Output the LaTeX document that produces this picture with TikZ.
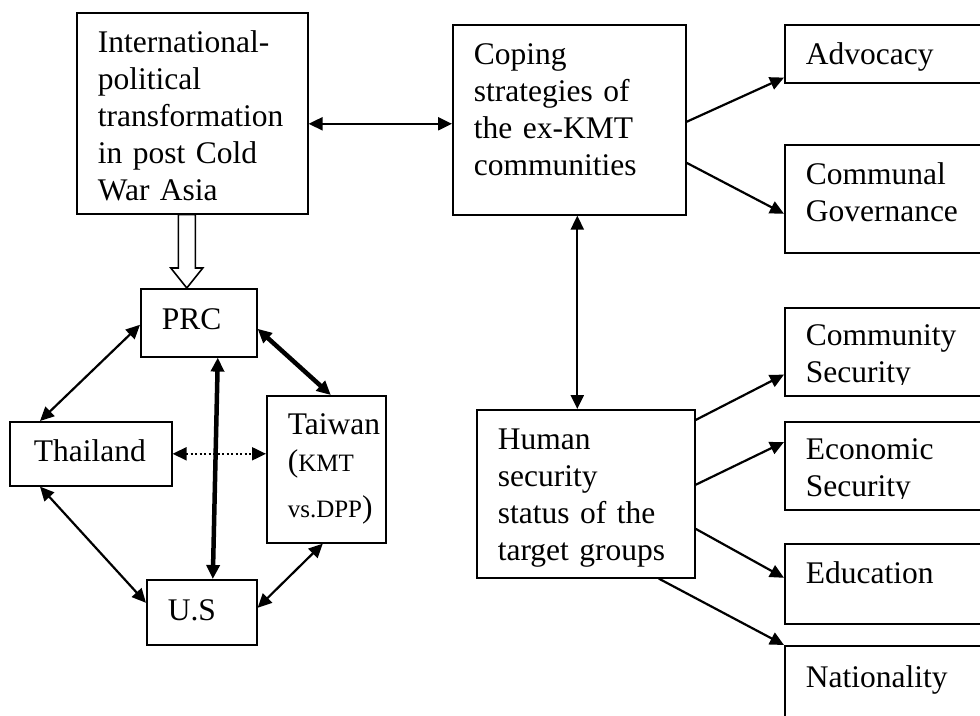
\documentclass[tikz,border=0pt]{standalone}
\usepackage{fontspec}
\setmainfont{Liberation Serif}
\usepackage{tikz}
\usetikzlibrary{arrows.meta,calc}

\newcommand{\kmtsize}{\fontsize{25}{28}\selectfont}

\tikzset{
  >={Triangle[length=14pt,width=13pt]},
  box/.style={draw, line width=1.6pt, anchor=north west, align=left,
    inner xsep=21pt, inner ysep=0pt, font=\fontsize{31.5}{37}\selectfont},
  thin/.style={line width=2.2pt},
  heavy/.style={line width=4.5pt},
  dotline/.style={line width=2pt, dash pattern=on 2pt off 2.5pt},
  hollow/.style={line width=1.6pt, fill=white}
}

\begin{document}
\begin{tikzpicture}[x=1pt, y=-1pt]
  % Fix the page size
  \useasboundingbox (0,0) rectangle (980,715);
  \clip (0,0) rectangle (980,715);

  % Top boxes
  \node[box, minimum width=231, minimum height=201, text width=189pt, text depth=142.5pt] (intl) at (76,12)
    {International-\\political\\transformation\\in post Cold\\War Asia};
  \node[box, minimum width=233, minimum height=190, text width=191pt, text depth=131pt] (coping) at (452,24)
    {Coping\\strategies of\\the ex-KMT\\communities};
  \node[box, minimum width=218, minimum height=168, text width=176pt, text depth=109.5pt] (human) at (476,409)
    {Human\\security\\status of the\\target groups};

  % Right column
  \node[box, minimum width=230, minimum height=58, text width=188pt, text depth=0pt] (advocacy) at (784,24) {Advocacy};
  \node[box, minimum width=230, minimum height=108, text width=188pt, text depth=49.5pt] (communal) at (784,144) {Communal\\Governance};
  \node[box, minimum width=230, minimum height=88, text width=188pt, text depth=33.5pt] (community) at (784,307) {Community\\Security};
  \node[box, minimum width=230, minimum height=88, text width=188pt, text depth=33.5pt] (economic) at (784,421) {Economic\\Security};
  \node[box, minimum width=230, minimum height=80, text width=188pt, text depth=21.5pt] (education) at (784,543) {Education};
  \node[box, minimum width=230, minimum height=110, text width=188pt, text depth=47.5pt] (nationality) at (784,645) {Nationality};

  % Cut off the last text line as in the original boxes
  \fill[white] ($(community.south west)+(1.8,-1.8)$) rectangle ($(community.south east)+(-1.8,-12)$);
  \fill[white] ($(economic.south west)+(1.8,-1.8)$) rectangle ($(economic.south east)+(-1.8,-12)$);

  % Countries
  \node[box, minimum width=116, minimum height=68, text width=74pt, text depth=8.3pt] (prc) at (140,288) {PRC};
  \node[box, minimum width=162, minimum height=64, inner xsep=24pt, text width=114pt, text depth=6.1pt] (thailand) at (9,421) {Thailand};
  \node[box, minimum width=119, minimum height=147, text width=77pt] (taiwan) at (266,395)
    {\mbox{Taiwan}\\({\kmtsize KMT}\\[9pt]\mbox{{\kmtsize vs.DPP})}};
  \node[box, minimum width=110, minimum height=65, text width=68pt, text depth=3.9pt] (us) at (146,579) {U.S};

  % Hollow arrow down to PRC
  \coordinate (tip) at ($(prc.north)+(-12,0)$);
  \draw[hollow] (tip) -- ++(-16,-20) -- ++(7.5,0) -- ($(tip |- intl.south)+(-8.5,0)$)
    -- ($(tip |- intl.south)+(8.5,0)$) -- ($(tip)+(8.5,-20)$) -- ++(7.5,0) -- cycle;

  % Links between the top boxes
  \draw[thin, <->] ($(intl.east)+(0,10.5)$) -- ($(coping.west)+(0,4)$);
  \coordinate (vx) at ($(coping.south)+(8,0)$);
  \draw[thin, <->] (vx) -- (vx |- human.north);

  % Coping strategies
  \draw[thin, ->] ($(coping.east)+(0,2)$) -- ($(advocacy.south west)+(0,-6)$);
  \draw[thin, ->] ($(coping.east)+(0,43)$) -- ($(communal.west)+(0,15)$);

  % Human security
  \draw[thin, ->] ($(human.north east)+(0,11)$) -- ($(community.south west)+(0,-22)$);
  \draw[thin, ->] ($(human.east)+(0,-9)$) -- ($(economic.north west)+(0,21)$);
  \draw[thin, ->] ($(human.east)+(0,35)$) -- ($(education.west)+(0,-6)$);
  \draw[thin, ->] ($(human.south)+(73,0)$) -- (nationality.north west);

  % Relations between the countries
  \draw[thin, <->] ($(prc.west)+(0,2)$) -- ($(thailand.north west)+(31,0)$);
  \draw[heavy, <->] ($(prc.east)+(0,6)$) -- ($(taiwan.north)+(4.5,0)$);
  \draw[heavy, <->] ($(prc.south)+(19,0)$) -- ($(us.north)+(11,0)$);
  \draw[dotline, <->] (thailand.east) -- (thailand.east -| taiwan.west);
  \draw[thin, <->] ($(thailand.south west)+(31,0)$) -- ($(us.west)+(0,-9.5)$);
  \draw[thin, <->] ($(taiwan.south)+(-3.5,0)$) -- ($(us.east)+(0,-4.5)$);

\end{tikzpicture}
\end{document}
